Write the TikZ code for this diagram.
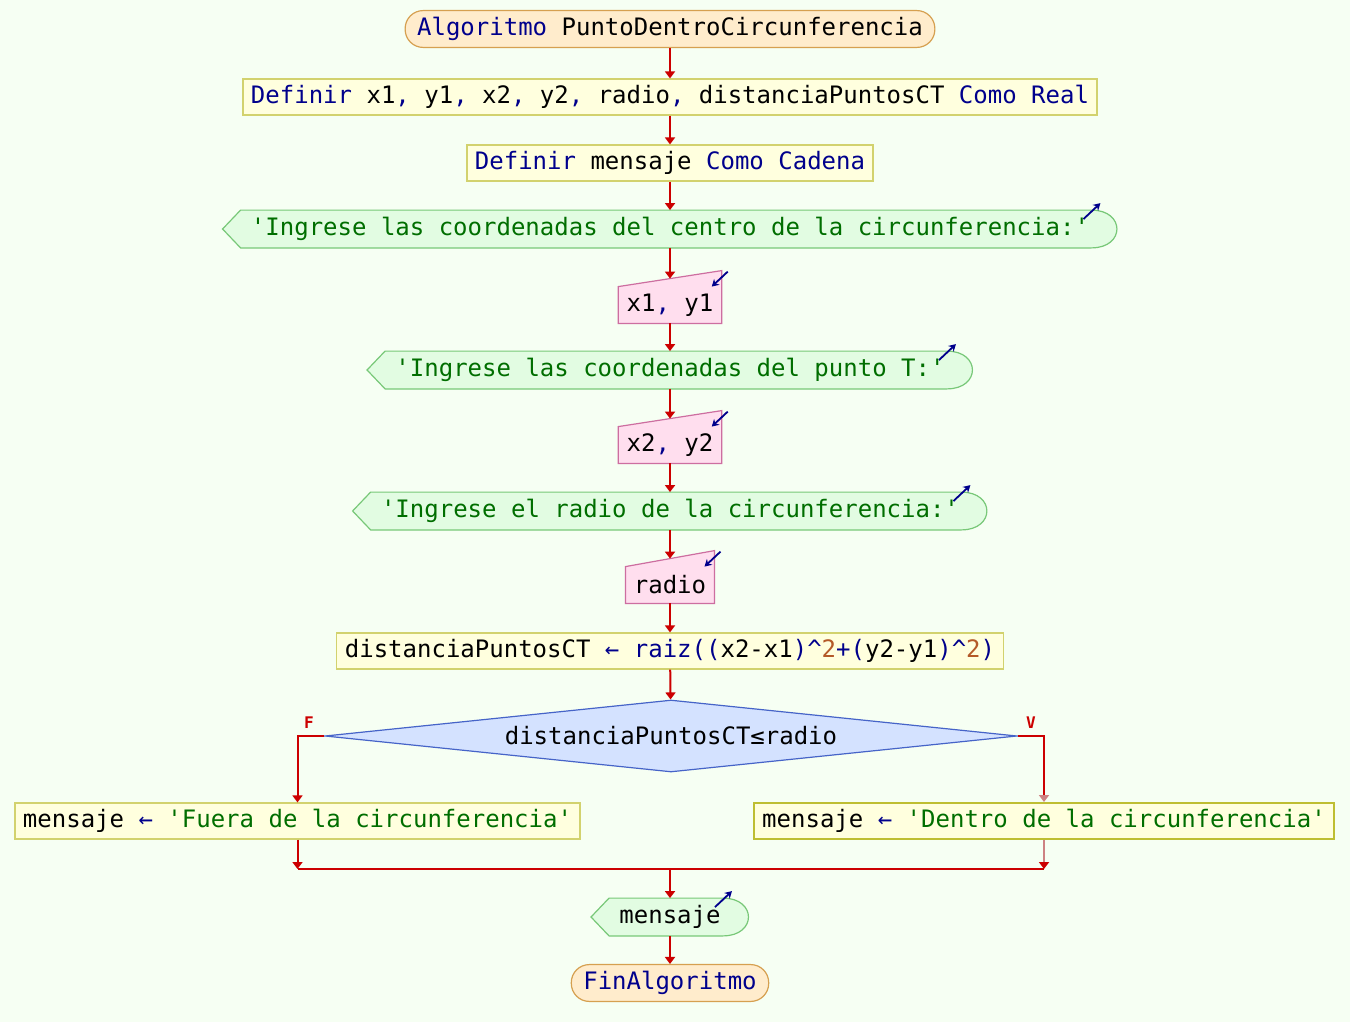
\documentclass[tikz,border=0pt]{standalone}
\usepackage{fontspec}
\setmonofont{DejaVu Sans Mono}
\usetikzlibrary{positioning, arrows.meta, shapes.geometric}

\definecolor{bgcol}{RGB}{246,255,243}
\definecolor{termfill}{RGB}{255,236,204}
\definecolor{termline}{RGB}{214,160,80}
\definecolor{procfill}{RGB}{255,255,222}
\definecolor{procline}{RGB}{210,210,110}
\definecolor{selline}{RGB}{190,190,50}
\definecolor{outfill}{RGB}{226,252,226}
\definecolor{outline}{RGB}{120,200,120}
\definecolor{infill}{RGB}{255,222,238}
\definecolor{inline}{RGB}{205,110,160}
\definecolor{decfill}{RGB}{212,226,255}
\definecolor{decline}{RGB}{70,100,200}
\definecolor{flowred}{RGB}{204,0,0}
\definecolor{fadedred}{RGB}{205,130,130}
\definecolor{kwblue}{RGB}{0,0,140}
\definecolor{strgreen}{RGB}{0,110,0}
\definecolor{numbrown}{RGB}{180,90,40}

\pgfdeclarelayer{bg}
\pgfsetlayers{bg,main}

\newcommand{\kw}[1]{\textcolor{kwblue}{#1}}
\newcommand{\strtxt}[1]{\textcolor{strgreen}{#1}}
\newcommand{\numtxt}[1]{\textcolor{numbrown}{#1}}

% output shape (point on the left, round on the right) and its icon
\newcommand{\outshape}[1]{%
  \draw[draw=outline, fill=outfill, line width=0.6pt]
    ([xshift=-14pt]#1.west) -- ([xshift=-5pt]#1.north west)
    -- ([xshift=1pt]#1.north east)
    .. controls +(17pt,0) and +(17pt,0) .. ([xshift=1pt]#1.south east)
    -- ([xshift=-5pt]#1.south west) -- cycle;
  \draw[icon] ([xshift=-3pt,yshift=-4.5pt]#1.north east) -- ([xshift=5.5pt,yshift=3.5pt]#1.north east);}
% input shape (slanted top) and its icon
\newcommand{\inshape}[1]{%
  \draw[draw=inline, fill=infill, line width=0.6pt]
    (#1.south west) -- (#1.north west) -- ([yshift=8pt]#1.north east)
    -- (#1.south east) -- cycle;
  \draw[icon] ([xshift=3pt,yshift=7.5pt]#1.north east) -- ([xshift=-5pt,yshift=0pt]#1.north east);}

\begin{document}
\begin{tikzpicture}[x=0.5pt, y=-0.5pt,
    every node/.style={font=\ttfamily\fontsize{12}{14}\selectfont},
    termbox/.style={rectangle, draw=termline, fill=termfill, rounded corners=9pt, minimum height=18pt, inner xsep=6pt, line width=0.6pt},
    procbox/.style={rectangle, draw=procline, fill=procfill, minimum height=18pt, inner xsep=4pt, inner ysep=0pt, line width=0.6pt},
    outtext/.style={inner sep=0pt, minimum height=18.5pt},
    intext/.style={inner xsep=4pt, inner ysep=0pt, minimum height=18pt},
    decbox/.style={diamond, draw=decline, fill=decfill, inner sep=0pt, aspect=9.6, minimum width=346pt, minimum height=36pt, line width=0.6pt},
    flow/.style={draw=flowred, line width=1pt, -{Triangle[length=3.5pt,width=5pt]}},
    icon/.style={draw=kwblue, line width=0.9pt, -{Stealth[length=3.5pt,width=4pt]}},
    branchlbl/.style={text=flowred, font=\ttfamily\bfseries\fontsize{8}{9}\selectfont}
  ]
  \begin{pgfonlayer}{bg}
    \fill[bgcol] (0,0) rectangle (1350,1022);
  \end{pgfonlayer}
  \useasboundingbox (0,0) rectangle (1350,1022);

  \node[termbox] (start) at (670,29) {\kw{Algoritmo} PuntoDentroCircunferencia};
  \node[procbox] (def1) at (670,97) {\kw{Definir} x1\kw{,} y1\kw{,} x2\kw{,} y2\kw{,} radio\kw{,} distanciaPuntosCT \kw{Como Real}};
  \node[procbox] (def2) at (670,163) {\kw{Definir} mensaje \kw{Como Cadena}};
  \node[outtext] (out1) at (670,229) {\strtxt{'Ingrese las coordenadas del centro de la circunferencia:'}};
  \node[intext] (in1) at (670,305) {x1\kw{,} y1};
  \node[outtext] (out2) at (670,370) {\strtxt{'Ingrese las coordenadas del punto T:'}};
  \node[intext] (in2) at (670,445) {x2\kw{,} y2};
  \node[outtext] (out3) at (670,511) {\strtxt{'Ingrese el radio de la circunferencia:'}};
  \node[intext] (in3) at (670,585) {radio};
  \node[procbox] (asg) at (670,651) {distanciaPuntosCT \kw{← raiz((}x2-x1\kw{)\textasciicircum}\numtxt{2}\kw{+(}y2-y1\kw{)\textasciicircum}\numtxt{2}\kw{)}};
  \node[decbox] (dec) at (671,736) {distanciaPuntosCT≤radio};
  \node[branchlbl] (lblf) at (309,723) {F};
  \node[branchlbl] (lblv) at (1031,723) {V};
  \node[procbox] (lf) at (297.5,821) {mensaje \kw{←} \strtxt{'Fuera de la circunferencia'}};
  \node[procbox, draw=selline, line width=1pt] (rt) at (1044,821) {mensaje \kw{←} \strtxt{'Dentro de la circunferencia'}};
  \coordinate (jl) at (297.5,869);
  \coordinate (jr) at (1044,869);
  \coordinate (jm) at (670,869);
  \node[outtext] (out4) at (670,917) {mensaje};
  \node[termbox] (fin) at (670,983) {\kw{FinAlgoritmo}};

  \begin{pgfonlayer}{bg}
    \outshape{out1}
    \outshape{out2}
    \outshape{out3}
    \outshape{out4}
    \inshape{in1}
    \inshape{in2}
    \inshape{in3}
  \end{pgfonlayer}

  \draw[flow] (start) -- (def1);
  \draw[flow] (def1) -- (def2);
  \draw[flow] (def2) -- (out1);
  \draw[flow] (out1) -- ([yshift=4pt]in1.north);
  \draw[flow] (in1) -- (out2);
  \draw[flow] (out2) -- ([yshift=4pt]in2.north);
  \draw[flow] (in2) -- (out3);
  \draw[flow] (out3) -- ([yshift=4pt]in3.north);
  \draw[flow] (in3) -- (asg);
  \draw[flow] (asg) -- (dec);
  \draw[flow] (dec.west) -| (lf.north);
  \draw[flow, -{Triangle[length=3.5pt,width=5pt,color=fadedred]}] (dec.east) -| (rt.north);
  \draw[flow] (lf) -- (jl);
  \draw[flow, draw=fadedred, -{Triangle[length=3.5pt,width=5pt,color=flowred]}] (rt) -- (jr);
  \draw[draw=flowred, line width=1pt] (jl) -- (jr);
  \draw[flow] (jm) -- (out4);
  \draw[flow] (out4) -- (fin);
\end{tikzpicture}
\end{document}
